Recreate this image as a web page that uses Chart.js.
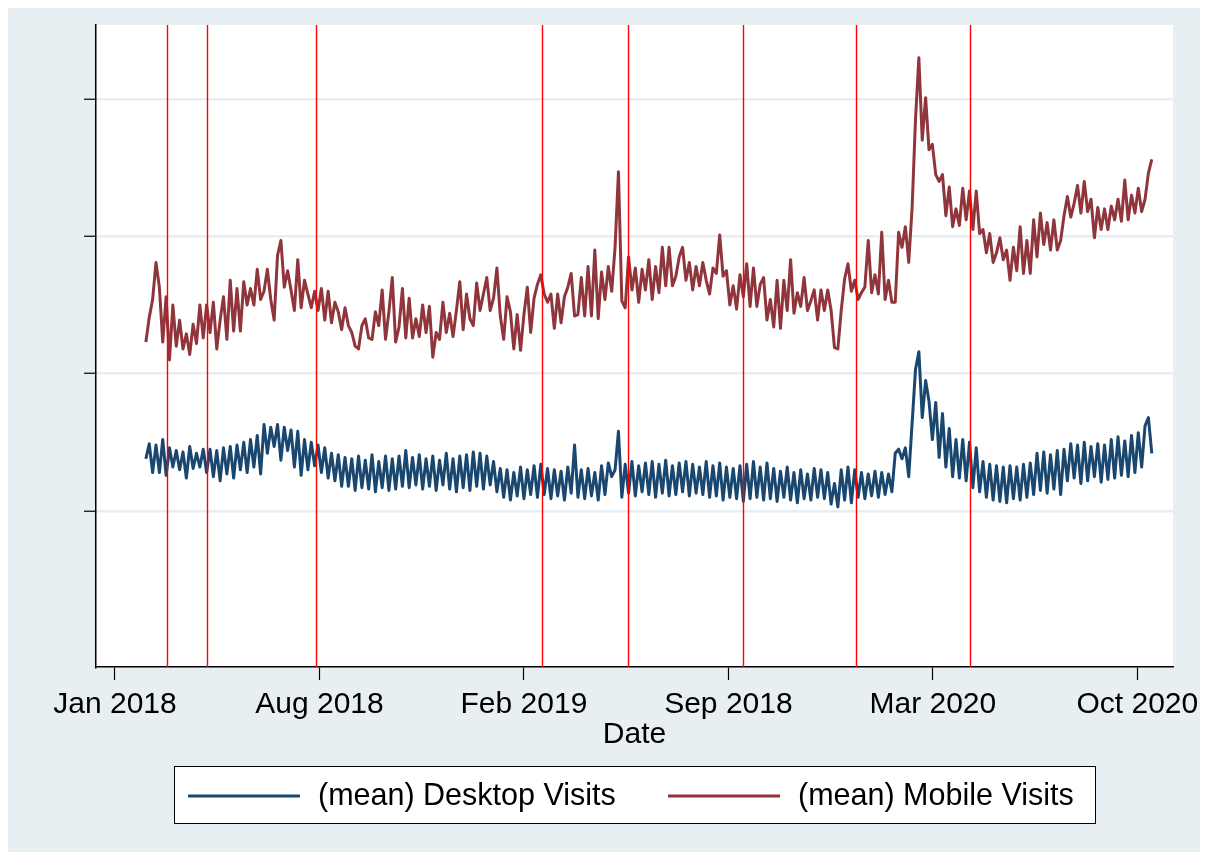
<!DOCTYPE html>
<html>
<head>
<meta charset="utf-8">
<script src="https://cdn.jsdelivr.net/npm/chart.js@4/dist/chart.umd.min.js"></script>
<style>
  html, body { margin: 0; padding: 0; background: #ffffff; }
  #wrap { width: 1208px; height: 860px; }
</style>
</head>
<body>
<div id="wrap"><canvas id="visitsChart" width="1208" height="860"></canvas></div>
<script>
// days counted from 1 Jan 2018; one value every half week
const firstDay = 32;
const stepDays = 3.5;

// x axis ticks (labels as printed on the original)
const tickDays = [0, 212, 424, 636, 848, 1060];
const tickLabels = ['Jan 2018', 'Aug 2018', 'Feb 2019', 'Sep 2018', 'Mar 2020', 'Oct 2020'];

// y axis ticks (unlabelled on the original)
const yTicks = [1, 2, 3, 4];

// red event lines
const eventDays = [54, 95, 208, 443, 532, 651, 768, 886];

// (mean) Desktop Visits, thousands
const desktopVisits = [
    1.38, 1.49, 1.28, 1.48, 1.28, 1.52, 1.26, 1.46, 1.32, 1.44, 1.30, 1.43, 1.24, 1.47, 1.31, 1.42, 1.32, 1.45,
    1.28, 1.45, 1.25, 1.44, 1.22, 1.46, 1.27, 1.47, 1.24, 1.48, 1.30, 1.50, 1.28, 1.52, 1.32, 1.55, 1.27,
    1.63, 1.42, 1.61, 1.47, 1.63, 1.37, 1.61, 1.44, 1.59, 1.32,
    1.58, 1.26, 1.52, 1.30, 1.50,
    1.33, 1.48, 1.28, 1.46, 1.24, 1.42, 1.22, 1.41, 1.18, 1.39,
    1.18, 1.38, 1.15, 1.40, 1.17, 1.37, 1.16, 1.41, 1.14, 1.36, 1.17, 1.40, 1.15, 1.38, 1.16,
    1.40, 1.18, 1.44, 1.17, 1.39, 1.19, 1.41, 1.16, 1.38, 1.18, 1.40, 1.15, 1.37, 1.19, 1.42,
    1.16, 1.38, 1.14, 1.40, 1.17, 1.41, 1.15, 1.43, 1.18, 1.42, 1.16, 1.40, 1.19, 1.36, 1.14,
    1.31, 1.10, 1.30, 1.08, 1.28, 1.11, 1.32, 1.09, 1.30, 1.12, 1.33, 1.10,
    1.34, 1.12, 1.31, 1.09, 1.30, 1.11, 1.29, 1.08, 1.32, 1.13, 1.48,
    1.10, 1.30, 1.09, 1.31, 1.11, 1.28, 1.08, 1.33, 1.12, 1.35, 1.25, 1.30,
    1.58, 1.10, 1.34, 1.13, 1.36, 1.11, 1.33, 1.14, 1.35, 1.12, 1.36, 1.10, 1.34, 1.13, 1.37, 1.11, 1.33, 1.12,
    1.35, 1.14, 1.36, 1.11, 1.34, 1.13, 1.32, 1.12, 1.36, 1.10, 1.33, 1.11, 1.35, 1.08, 1.32, 1.10, 1.31, 1.09,
    1.33, 1.07, 1.34, 1.09, 1.36, 1.10, 1.32, 1.08, 1.35, 1.09, 1.31, 1.07, 1.29,
    1.10, 1.32, 1.08, 1.28, 1.06, 1.30, 1.09, 1.27, 1.08, 1.31, 1.10, 1.30, 1.09,
    1.28, 1.05, 1.20, 1.03, 1.30, 1.08, 1.32, 1.06,
    1.30, 1.10, 1.28, 1.09, 1.27, 1.11, 1.29, 1.10, 1.28, 1.12, 1.27, 1.14,
    1.42, 1.45, 1.38, 1.46, 1.25,
    1.64, 2.03, 2.16, 1.68, 1.95, 1.80, 1.52, 1.79, 1.39, 1.71, 1.32, 1.60, 1.25, 1.52,
    1.24, 1.52, 1.22, 1.50, 1.17, 1.46, 1.14,
    1.36, 1.10, 1.34, 1.08, 1.33, 1.07, 1.32, 1.06, 1.33, 1.09, 1.32, 1.08, 1.34, 1.10, 1.35,
    1.12, 1.42, 1.15, 1.43, 1.13, 1.41, 1.16, 1.44, 1.12,
    1.45, 1.22, 1.49, 1.24, 1.48, 1.20, 1.50, 1.22, 1.47, 1.25, 1.49, 1.21, 1.48,
    1.23, 1.52, 1.24, 1.54, 1.26, 1.51, 1.25, 1.55,
    1.28, 1.57, 1.32, 1.62, 1.68, 1.42
];

// (mean) Mobile Visits, thousands
const mobileVisits = [
    2.23, 2.41, 2.54, 2.81, 2.63, 2.23, 2.56, 2.10, 2.50, 2.20, 2.39, 2.18, 2.29, 2.14, 2.36, 2.22, 2.50, 2.26,
    2.50, 2.30, 2.52, 2.18, 2.39, 2.56, 2.25, 2.68, 2.31, 2.62, 2.31, 2.67, 2.50, 2.62, 2.50, 2.76, 2.54,
    2.60, 2.76, 2.54, 2.39, 2.86, 2.97, 2.63, 2.75, 2.61, 2.46,
    2.83, 2.48, 2.68, 2.58, 2.48,
    2.60, 2.46, 2.62, 2.39, 2.60, 2.37, 2.52, 2.45, 2.32, 2.48,
    2.35, 2.30, 2.20, 2.18, 2.35, 2.40, 2.26, 2.25, 2.45, 2.35, 2.61, 2.25, 2.45, 2.70, 2.23,
    2.34, 2.62, 2.26, 2.55, 2.26, 2.40, 2.27, 2.50, 2.30, 2.49, 2.12, 2.30, 2.25, 2.52, 2.30,
    2.44, 2.27, 2.46, 2.67, 2.32, 2.58, 2.40, 2.35, 2.66, 2.46, 2.58, 2.70, 2.46, 2.55, 2.77,
    2.42, 2.25, 2.56, 2.45, 2.18, 2.43, 2.17, 2.43, 2.63, 2.30, 2.55, 2.65,
    2.72, 2.58, 2.52, 2.58, 2.33, 2.58, 2.37, 2.56, 2.63, 2.73, 2.42,
    2.43, 2.70, 2.42, 2.78, 2.42, 2.90, 2.40, 2.74, 2.54, 2.78, 2.60, 2.92, 3.47, 2.53,
    2.48, 2.85, 2.61, 2.77, 2.52, 2.76, 2.61, 2.83, 2.54, 2.78, 2.59, 2.92, 2.64, 2.92, 2.64, 2.71, 2.85,
    2.92, 2.68, 2.81, 2.61, 2.78, 2.64, 2.81, 2.68, 2.58, 2.77, 2.73, 3.01, 2.71, 2.75, 2.50, 2.64, 2.47,
    2.72, 2.56, 2.80, 2.49, 2.77, 2.49, 2.65, 2.70, 2.39, 2.54, 2.34, 2.68, 2.33,
    2.68, 2.46, 2.83, 2.44, 2.59, 2.49, 2.70, 2.46, 2.53, 2.61, 2.39, 2.61, 2.46,
    2.61, 2.46, 2.19, 2.18, 2.46, 2.69, 2.80, 2.60,
    2.68, 2.54, 2.59, 2.63, 2.97, 2.59, 2.72, 2.58, 3.03, 2.54, 2.68, 2.52,
    2.52, 3.03, 2.92, 3.07, 2.81,
    3.21, 3.85, 4.30, 3.70, 4.01, 3.63, 3.67, 3.45, 3.40, 3.45, 3.15, 3.36, 3.07, 3.20,
    3.08, 3.35, 3.12, 3.33, 3.05, 3.33, 3.02,
    3.05, 2.88, 3.02, 2.81, 2.88, 2.99, 2.83, 2.90, 2.68, 2.92, 2.75, 3.07, 2.73, 2.97, 2.73,
    3.12, 2.85, 3.17, 2.94, 3.10, 2.90, 3.12, 2.90, 2.97,
    3.15, 3.29, 3.14, 3.24, 3.37, 3.17, 3.40, 3.18, 3.27, 2.99, 3.21, 3.05, 3.20,
    3.05, 3.22, 3.12, 3.27, 3.11, 3.41, 3.12, 3.30,
    3.17, 3.35, 3.18, 3.27, 3.46, 3.56
];

const desktopColor = '#1a476f';
const mobileColor = '#90353b';
const regionColor = '#e8eff2';
const fontFamily = "'Liberation Sans', Arial, sans-serif";

function toPoints(values) {
    return values.map((v, i) => ({ x: firstDay + i * stepDays, y: v }));
}

// graph region, plot region, event lines and legend box
const stataLook = {
    id: 'stataLook',
    beforeDraw(chart) {
        const ctx = chart.ctx;
        const area = chart.chartArea;
        ctx.save();
        ctx.fillStyle = '#ffffff';
        ctx.fillRect(0, 0, chart.width, chart.height);
        ctx.fillStyle = regionColor;
        ctx.fillRect(8, 8, chart.width - 16, chart.height - 16);
        ctx.fillStyle = '#ffffff';
        ctx.fillRect(area.left, area.top, area.right - area.left, area.bottom - area.top);
        ctx.restore();
    },
    afterDatasetsDraw(chart) {
        const ctx = chart.ctx;
        const area = chart.chartArea;
        const xScale = chart.scales.x;
        ctx.save();
        ctx.strokeStyle = '#ff0000';
        ctx.lineWidth = 1.4;
        eventDays.forEach(d => {
            const px = Math.round(xScale.getPixelForValue(d)) + 0.5;
            ctx.beginPath();
            ctx.moveTo(px, area.top);
            ctx.lineTo(px, area.bottom);
            ctx.stroke();
        });
        ctx.restore();
    },
    afterDraw(chart) {
        const ctx = chart.ctx;
        ctx.save();
        // legend
        ctx.fillStyle = '#ffffff';
        ctx.fillRect(174, 766, 921, 57);
        ctx.strokeStyle = '#000000';
        ctx.lineWidth = 1;
        ctx.strokeRect(174.5, 766.5, 921, 57);

        const items = [
            { label: '(mean) Desktop Visits', color: desktopColor, x: 188 },
            { label: '(mean) Mobile Visits', color: mobileColor, x: 668 }
        ];
        ctx.font = '30.5px ' + fontFamily;
        ctx.textBaseline = 'middle';
        items.forEach(item => {
            ctx.strokeStyle = item.color;
            ctx.lineWidth = 3;
            ctx.beginPath();
            ctx.moveTo(item.x, 796);
            ctx.lineTo(item.x + 112, 796);
            ctx.stroke();
            ctx.fillStyle = '#000000';
            ctx.fillText(item.label, item.x + 130, 797);
        });
        ctx.restore();
    }
};

function renderChart() {
    const ctx = document.getElementById('visitsChart').getContext('2d');
    const chart = new Chart(ctx, {
        type: 'line',
        data: {
            datasets: [
                {
                    label: '(mean) Desktop Visits',
                    data: toPoints(desktopVisits),
                    borderColor: desktopColor,
                    borderWidth: 3,
                    pointRadius: 0,
                    borderJoinStyle: 'round',
                    tension: 0,
                    fill: false
                },
                {
                    label: '(mean) Mobile Visits',
                    data: toPoints(mobileVisits),
                    borderColor: mobileColor,
                    borderWidth: 3,
                    pointRadius: 0,
                    borderJoinStyle: 'round',
                    tension: 0,
                    fill: false
                }
            ]
        },
        options: {
            responsive: false,
            animation: false,
            layout: {
                padding: { left: 0, top: 25, right: 35, bottom: 108 }
            },
            plugins: {
                legend: { display: false },
                tooltip: { enabled: false },
                title: { display: false }
            },
            scales: {
                x: {
                    type: 'linear',
                    min: -19.7,
                    max: 1097,
                    afterBuildTicks: function (scale) {
                        scale.ticks = tickDays.map(v => ({ value: v }));
                    },
                    afterFit: function (scale) {
                        scale.height = 85;
                        scale.paddingLeft = 0;
                        scale.paddingRight = 0;
                    },
                    ticks: {
                        autoSkip: false,
                        maxRotation: 0,
                        minRotation: 0,
                        padding: 7,
                        color: '#000000',
                        font: { family: fontFamily, size: 30 },
                        callback: function (value, index) {
                            return tickLabels[index];
                        }
                    },
                    grid: {
                        drawOnChartArea: false,
                        drawTicks: true,
                        tickLength: 13,
                        tickColor: '#000000',
                        tickWidth: 1.2
                    },
                    border: { display: true, color: '#000000', width: 1.5 },
                    title: {
                        display: true,
                        text: 'Date',
                        color: '#000000',
                        font: { family: fontFamily, size: 30, lineHeight: 1 },
                        padding: { top: 0, bottom: 2 }
                    }
                },
                y: {
                    type: 'linear',
                    min: -0.136,
                    max: 4.539,
                    afterBuildTicks: function (scale) {
                        scale.ticks = yTicks.map(v => ({ value: v }));
                    },
                    afterFit: function (scale) {
                        scale.width = 96;
                    },
                    ticks: { display: false },
                    grid: {
                        color: '#e6eef1',
                        lineWidth: 2.5,
                        drawTicks: true,
                        tickLength: 12,
                        tickColor: '#000000',
                        tickWidth: 1.2
                    },
                    border: { display: true, color: '#000000', width: 1.5 }
                }
            }
        },
        plugins: [stataLook]
    });
    console.log('Rendered chart, area:', chart.chartArea);
    return chart;
}

renderChart();
</script>
</body>
</html>
